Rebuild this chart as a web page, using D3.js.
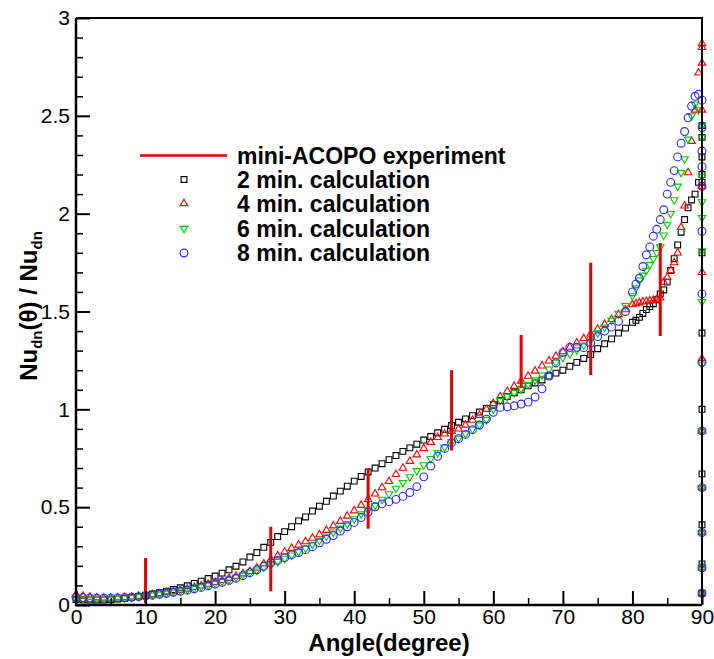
<!DOCTYPE html>
<html>
<head>
<meta charset="utf-8">
<script src="https://cdn.jsdelivr.net/npm/d3@7"></script>
<style>
  body { margin: 0; background: #fff; }
  svg { display: block; font-family: Arial, "Liberation Sans", sans-serif; }
</style>
</head>
<body>
<div id="chart"></div>
<script>
// sampled angles (deg), shared by the four calculations
const angles = [0,1,2,3,4,5,6,7,8,9,10,11,12,13,14,15,16,17,18,19,20,21,22,23,24,25,26,27,28,29,
  30,31,32,33,34,35,36,37,38,39,40,41,42,43,44,45,46,47,48,49,50,51,52,53,54,55,56,57,58,59,
  60,61,62,63,64,65,66,67,68,69,70,71,72,73,74,75,76,77,78,79,80,
  80.5,81,81.5,82,82.5,83,83.5,84,84.5,85,85.5,86,86.5,87,87.5,88,88.5,89,89.5,90];

const calc2 = [0.028,0.027,0.026,0.026,0.026,0.027,0.030,0.034,0.039,0.044,0.050,0.056,0.063,0.071,0.079,0.088,0.098,0.110,0.122,0.135,
  0.148,0.163,0.180,0.198,0.220,0.245,0.268,0.295,0.320,0.350,0.375,0.400,0.430,0.450,0.480,0.505,0.530,0.557,0.582,0.607,
  0.633,0.657,0.680,0.700,0.722,0.743,0.764,0.785,0.803,0.822,0.843,0.861,0.880,0.898,0.917,0.934,0.951,0.968,0.986,1.005,
  1.024,1.045,1.065,1.085,1.100,1.120,1.135,1.150,1.170,1.185,1.200,1.220,1.240,1.260,1.280,1.310,1.335,1.360,1.390,1.415,1.445,
  1.455,1.470,1.490,1.510,1.525,1.540,1.560,1.590,1.610,1.650,1.710,1.770,1.840,1.905,1.970,2.030,2.070,2.100,2.160,2.200];

const calc4 = [0.052,0.045,0.040,0.037,0.036,0.036,0.037,0.039,0.042,0.045,0.049,0.053,0.058,0.063,0.069,0.075,0.082,0.090,0.098,0.107,
  0.116,0.126,0.137,0.148,0.160,0.172,0.190,0.210,0.232,0.252,0.272,0.290,0.307,0.324,0.342,0.360,0.382,0.405,0.428,0.455,
  0.482,0.510,0.540,0.568,0.600,0.632,0.668,0.700,0.735,0.768,0.800,0.832,0.857,0.875,0.888,0.900,0.920,0.945,0.970,1.000,
  1.030,1.065,1.092,1.118,1.145,1.170,1.196,1.222,1.248,1.272,1.295,1.318,1.340,1.362,1.385,1.410,1.435,1.460,1.485,1.510,1.535,
  1.540,1.545,1.550,1.552,1.555,1.558,1.562,1.570,1.650,1.675,1.710,1.750,1.800,1.930,2.040,2.210,2.370,2.530,2.720,2.870];

const calc6 = [0.030,0.030,0.028,0.028,0.028,0.030,0.032,0.035,0.038,0.042,0.046,0.050,0.055,0.060,0.066,0.072,0.078,0.085,0.093,0.101,
  0.110,0.120,0.130,0.141,0.152,0.165,0.178,0.192,0.207,0.222,0.238,0.255,0.272,0.290,0.310,0.330,0.352,0.372,0.392,0.415,
  0.440,0.465,0.485,0.510,0.540,0.568,0.596,0.625,0.655,0.686,0.716,0.748,0.778,0.806,0.832,0.852,0.875,0.898,0.920,0.948,
  1.000,1.045,1.065,1.085,1.105,1.127,1.150,1.175,1.205,1.240,1.265,1.283,1.303,1.328,1.355,1.390,1.420,1.455,1.490,1.530,1.580,
  1.620,1.660,1.685,1.710,1.740,1.770,1.800,1.830,1.890,1.945,2.000,2.070,2.140,2.210,2.280,2.380,2.500,2.560,2.530,2.450];

const calc8 = [0.040,0.038,0.036,0.035,0.035,0.035,0.036,0.038,0.040,0.043,0.046,0.050,0.055,0.060,0.065,0.070,0.076,0.083,0.090,0.098,
  0.107,0.116,0.126,0.137,0.150,0.165,0.180,0.197,0.214,0.228,0.242,0.256,0.268,0.283,0.298,0.318,0.336,0.355,0.378,0.400,
  0.422,0.447,0.475,0.502,0.517,0.528,0.540,0.555,0.575,0.605,0.655,0.710,0.760,0.800,0.830,0.850,0.872,0.896,0.920,0.950,
  0.985,1.010,1.013,1.018,1.027,1.037,1.063,1.105,1.170,1.237,1.290,1.317,1.317,1.315,1.340,1.372,1.400,1.420,1.450,1.500,1.600,
  1.640,1.670,1.730,1.790,1.830,1.885,1.920,1.970,2.020,2.100,2.160,2.220,2.290,2.360,2.420,2.490,2.550,2.600,2.610,2.580];

// points lying on the 90 deg wall
const wall2 = [2.45,2.39,2.29,2.16,1.80,1.39,1.00,0.67,0.41,0.21,0.06];
const wall4 = [2.85,2.77,2.53,2.14,1.70,1.26,0.89,0.60,0.37,0.19,0.06];
const wall6 = [2.39,2.19,2.06,1.98,1.81,1.55,1.23,0.89,0.60,0.37,0.19,0.06];
const wall8 = [2.44,2.32,2.24,2.14,1.91,1.59,1.24,0.89,0.60,0.37,0.19,0.06];

// mini-ACOPO experiment: range bars
const expAngle = [10,28,42,54,64,74,84];
const expLow   = [0.01,0.07,0.39,0.79,1.11,1.175,1.375];
const expHigh  = [0.24,0.40,0.70,1.20,1.38,1.75,1.85];

const legendLabels = ["mini-ACOPO experiment","2 min. calculation","4 min. calculation","6 min. calculation","8 min. calculation"];

const width = 714, height = 659;
const margin = {top: 18, right: 12, bottom: 54, left: 76};

const x = d3.scaleLinear([0, 90], [margin.left, width - margin.right]);
const y = d3.scaleLinear([0, 3], [height - margin.bottom, margin.top]);

const svg = d3.select("#chart").append("svg")
    .attr("width", width)
    .attr("height", height);

const series = [
  {vals: calc2, wall: wall2, color: "#000000", shape: "square"},
  {vals: calc4, wall: wall4, color: "#ff0000", shape: "up"},
  {vals: calc6, wall: wall6, color: "#00cc00", shape: "down"},
  {vals: calc8, wall: wall8, color: "#2a2aff", shape: "circle"}
];

const symbolPath = {
  square: d3.symbol(d3.symbolSquare, 34)(),
  up: d3.symbol(d3.symbolTriangle, 24)(),
  down: d3.symbol(d3.symbolTriangle, 24)(),
  circle: d3.symbol(d3.symbolCircle, 48)()
};

function drawMarker(sel, shape, color) {
  sel.append("path")
    .attr("d", symbolPath[shape])
    .attr("transform", d => `translate(${x(d[0])},${y(d[1])})` + (shape === "down" ? " rotate(180)" : ""))
    .attr("fill", "none")
    .attr("stroke", color)
    .attr("stroke-width", 1.1);
}

// markers
series.forEach(s => {
  const pts = angles.map((a, i) => [a, s.vals[i]]).concat(s.wall.map(v => [90, v]));
  svg.append("g")
    .selectAll("g")
    .data(pts)
    .join("g")
    .call(g => drawMarker(g, s.shape, s.color));
});

// experiment bars
svg.append("g")
  .selectAll("line")
  .data(expAngle)
  .join("line")
  .attr("x1", d => x(d))
  .attr("x2", d => x(d))
  .attr("y1", (d, i) => y(expLow[i]))
  .attr("y2", (d, i) => y(expHigh[i]))
  .attr("stroke", "#dd0000")
  .attr("stroke-width", 3);

// axes
const xAxis = svg.append("g")
  .attr("transform", `translate(0,${y(0)})`)
  .call(d3.axisBottom(x).tickValues(d3.range(0, 91, 10)).tickSizeInner(-14).tickSizeOuter(0).tickPadding(4));
xAxis.selectAll(".tick text").attr("font-size", 21).attr("fill", "#000");
xAxis.select(".domain").remove();
xAxis.selectAll(".tick line").attr("stroke-width", 2);

svg.append("g")
  .attr("transform", `translate(0,${y(0)})`)
  .call(d3.axisBottom(x).tickValues(d3.range(5, 90, 10)).tickSizeInner(-7).tickSizeOuter(0).tickFormat(""))
  .call(g => g.select(".domain").remove())
  .selectAll(".tick line").attr("stroke-width", 1.5);

const yAxis = svg.append("g")
  .attr("transform", `translate(${x(0)},0)`)
  .call(d3.axisLeft(y).tickValues(d3.range(0, 3.01, 0.5)).tickSizeInner(-14).tickSizeOuter(0).tickPadding(6)
    .tickFormat(d3.format("~g")));
yAxis.selectAll(".tick text").attr("font-size", 21).attr("fill", "#000");
yAxis.select(".domain").remove();
yAxis.selectAll(".tick line").attr("stroke-width", 2);

svg.append("g")
  .attr("transform", `translate(${x(0)},0)`)
  .call(d3.axisLeft(y).tickValues(d3.range(0, 3.01, 0.1).filter(v => Math.round(v * 10) % 5 !== 0))
    .tickSizeInner(-7).tickSizeOuter(0).tickFormat(""))
  .call(g => g.select(".domain").remove())
  .selectAll(".tick line").attr("stroke-width", 1.5);

// frame
svg.append("path")
  .attr("d", `M${x(0)},${y(3)}H${x(90)}V${y(0)}`)
  .attr("fill", "none").attr("stroke", "#000").attr("stroke-width", 2);
svg.append("path")
  .attr("d", `M${x(0)},${y(3)}V${y(0)}H${x(90)}`)
  .attr("fill", "none").attr("stroke", "#000").attr("stroke-width", 2.5);

// axis titles
svg.append("text")
  .attr("x", 389).attr("y", 651)
  .attr("text-anchor", "middle")
  .attr("font-size", 24).attr("font-weight", "bold")
  .text("Angle(degree)");

const yt = svg.append("text")
  .attr("transform", "translate(37,306) rotate(-90)")
  .attr("text-anchor", "middle")
  .attr("font-size", 24).attr("font-weight", "bold");
yt.append("tspan").text("Nu");
yt.append("tspan").attr("font-size", 15).attr("dy", 5).text("dn");
yt.append("tspan").attr("dy", -5).text("(θ) / Nu");
yt.append("tspan").attr("font-size", 15).attr("dy", 5).text("dn");

// legend
const legend = svg.append("g");
const rowY = [155.5, 179.5, 203.5, 228.5, 253];
legend.append("line")
  .attr("x1", 140).attr("x2", 227)
  .attr("y1", rowY[0]).attr("y2", rowY[0])
  .attr("stroke", "#dd0000").attr("stroke-width", 2.5);
series.forEach((s, i) => {
  legend.append("path")
    .attr("d", symbolPath[s.shape])
    .attr("transform", `translate(184,${rowY[i + 1]})` + (s.shape === "down" ? " rotate(180)" : ""))
    .attr("fill", "none").attr("stroke", s.color).attr("stroke-width", 1.1);
});
legend.selectAll("text")
  .data(legendLabels)
  .join("text")
  .attr("x", 237)
  .attr("y", (d, i) => rowY[i] + 8)
  .attr("font-size", 23).attr("font-weight", "bold")
  .text(d => d);
</script>
</body>
</html>
